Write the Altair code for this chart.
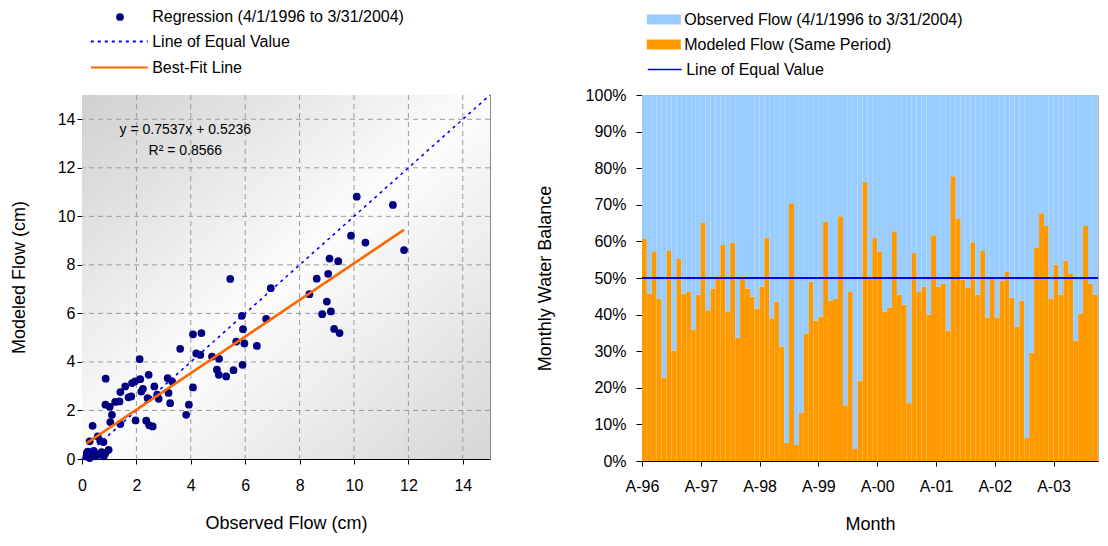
import altair as alt
import pandas as pd

FONT = "Liberation Sans"

# ---------------- Left panel: monthly flows (cm) ----------------
observed_cm = [
    5.45, 5.88, 5.92, 5.67, 5.97, 6.43, 4.08, 4.39, 3.61, 4.20,
    4.35, 4.78, 5.04, 4.96, 5.03, 5.30, 5.57, 5.90, 4.08, 2.12,
    0.87, 2.45, 2.14, 1.95, 1.84, 1.59, 1.41, 1.81, 2.18, 2.24,
    2.66, 2.76, 2.82, 2.41, 3.15, 3.31, 3.18, 3.24, 3.83, 3.93,
    1.38, 1.22, 1.02, 0.86, 1.10, 1.04, 1.41, 1.97, 2.36, 2.47,
    2.60, 0.39, 0.28, 0.58, 0.67, 0.79, 0.98, 0.86, 0.67, 0.43,
    0.18, 0.24, 0.37, 0.16, 0.49, 0.80, 0.28, 1.71, 10.10, 11.43,
    9.89, 10.42, 11.84, 9.10, 9.42, 8.63, 9.05, 6.94, 8.36, 9.00,
    9.15, 8.83, 9.27, 9.47, 6.77, 0.21, 0.34, 0.55, 0.31, 0.72,
]
modeled_cm = [
    7.42, 5.90, 5.35, 4.84, 4.76, 4.66, 5.14, 5.19, 4.54, 4.35,
    4.29, 4.22, 4.13, 3.68, 3.47, 3.40, 3.66, 3.88, 2.95, 4.12,
    3.31, 3.47, 3.29, 3.20, 3.13, 2.99, 2.76, 2.58, 2.78, 2.89,
    2.99, 2.65, 2.48, 2.51, 3.33, 3.20, 2.72, 2.30, 1.82, 2.24,
    2.37, 2.35, 2.15, 2.24, 1.82, 1.52, 1.44, 1.59, 1.58, 1.39,
    1.34, 1.37, 0.73, 0.93, 0.75, 0.70, 0.38, 0.25, 0.18, 0.34,
    0.25, 0.11, 0.18, 0.10, 0.11, 0.11, 0.04, 2.54, 10.81, 10.47,
    9.20, 8.92, 8.61, 8.26, 8.15, 7.43, 7.63, 7.04, 6.79, 6.49,
    6.08, 5.97, 5.36, 5.19, 5.77, 0.30, 0.26, 0.20, 0.08, 0.28,
]
fit_slope = 0.7537
fit_intercept = 0.5236
r_squared = 0.8566
equal_line_cm = [0, 15]
flow_ticks = [0, 2, 4, 6, 8, 10, 12, 14]
grid_ticks = [2, 4, 6, 8, 10, 12, 14]

reg_label = "Regression (4/1/1996 to 3/31/2004)"
eq_label = "Line of Equal Value"
fit_label = "Best-Fit Line"

# ---------------- Right panel: monthly water balance (%) ----------------
modeled_pct = [
    60.7, 45.7, 57.1, 44.3, 22.8, 57.4, 30.2, 55.2, 45.7, 46.2,
    35.9, 45.4, 65.0, 41.2, 47.1, 50.5, 59.0, 40.8, 59.6, 33.7,
    50.5, 47.1, 44.9, 41.6, 47.6, 60.9, 39.0, 43.5, 31.3, 4.9,
    70.4, 4.4, 13.1, 34.8, 49.0, 38.3, 39.4, 65.3, 43.8, 44.3,
    66.9, 15.2, 46.2, 3.3, 22.0, 76.2, 49.8, 60.9, 57.1, 40.8,
    41.9, 62.8, 45.4, 42.7, 15.8, 56.8, 46.2, 47.6, 40.0, 61.7,
    47.6, 48.4, 35.6, 77.8, 66.1, 49.5, 47.3, 59.8, 45.4, 57.4,
    39.2, 49.8, 39.2, 49.2, 51.7, 44.6, 36.7, 43.8, 6.3, 29.6,
    58.2, 67.7, 64.2, 44.3, 53.6, 45.4, 54.7, 51.1, 32.9, 40.3,
    64.2, 48.4, 45.4, 55.2, 54.4, 54.0,
]
equal_pct = 50
pct_ticks = [0, 10, 20, 30, 40, 50, 60, 70, 80, 90, 100]
year_ticks = [1996, 1997, 1998, 1999, 2000, 2001, 2002, 2003]

obs_label = "Observed Flow (4/1/1996 to 3/31/2004)"
mod_label = "Modeled Flow (Same Period)"

# ---------------- tables ----------------
pts_df = pd.DataFrame({"obs": observed_cm, "mod": modeled_cm, "series": reg_label})
eq_df = pd.DataFrame({"obs": equal_line_cm, "mod": equal_line_cm, "series": eq_label})
fx = [min(observed_cm), max(observed_cm)]
fit_df = pd.DataFrame({"obs": fx, "mod": [fit_slope * v + fit_intercept for v in fx],
                       "series": fit_label})
bg_df = pd.DataFrame({"x0": [0], "x1": [15], "y0": [0], "y1": [15]})
grid_df = pd.DataFrame({"v": grid_ticks})
ann_df = pd.DataFrame({
    "x": [3.8, 3.8], "y": [13.55, 12.7],
    "t": [f"y = {fit_slope}x + {fit_intercept}", f"R\u00b2 = {r_squared}"],
})

starts = pd.date_range("1996-04-01", periods=len(modeled_pct), freq="MS")
ends = starts + pd.offsets.MonthBegin(1)
rows = []
for s, e, m in zip(starts, ends, modeled_pct):
    rows.append({"start": s.strftime("%Y-%m-%d"), "end": e.strftime("%Y-%m-%d"),
                 "series": mod_label, "lo": 0, "hi": m})
    rows.append({"start": s.strftime("%Y-%m-%d"), "end": e.strftime("%Y-%m-%d"),
                 "series": obs_label, "lo": m, "hi": 100})
bar_df = pd.DataFrame(rows)
rule_df = pd.DataFrame({"pct": [equal_pct], "series": [eq_label]})

# ---------------- left panel ----------------
W1, H1 = 408, 364
xs = alt.Scale(domain=[0, 15], nice=False)
ys = alt.Scale(domain=[0, 15], nice=False)
xaxis = alt.Axis(values=flow_ticks, grid=False, tickSize=5, labelPadding=13,
                 labelFlush=False, title="Observed Flow (cm)", titlePadding=21)
yaxis = alt.Axis(values=flow_ticks, grid=False, tickSize=5, labelPadding=2,
                 title="Modeled Flow (cm)", titlePadding=29)

leg_base = dict(orient="none", title=None, labelFontSize=16, labelFont=FONT,
                labelColor="black", labelLimit=600, padding=0)

grad = alt.LinearGradient(
    gradient="linear",
    stops=[alt.GradientStop(color="#d0d0d0", offset=0),
           alt.GradientStop(color="#fcfcfc", offset=0.5),
           alt.GradientStop(color="#d6d6d6", offset=1)],
    x1=0, y1=0, x2=1, y2=1)

bg = alt.Chart(bg_df).mark_rect(fill=grad).encode(
    x=alt.X("x0:Q", scale=xs, axis=xaxis), x2="x1:Q",
    y=alt.Y("y0:Q", scale=ys, axis=yaxis), y2="y1:Q")

gx = alt.Chart(grid_df).mark_rule(color="#9a9a9a", strokeDash=[5, 4], strokeWidth=1).encode(
    x=alt.X("v:Q", scale=xs, axis=xaxis))
gy = alt.Chart(grid_df).mark_rule(color="#9a9a9a", strokeDash=[5, 4], strokeWidth=1).encode(
    y=alt.Y("v:Q", scale=ys, axis=yaxis))

pts = alt.Chart(pts_df).mark_circle(size=60, opacity=1).encode(
    x=alt.X("obs:Q", scale=xs, axis=xaxis),
    y=alt.Y("mod:Q", scale=ys, axis=yaxis),
    fill=alt.Fill("series:N", scale=alt.Scale(domain=[reg_label], range=["#000080"]),
                  legend=alt.Legend(symbolType="circle", symbolSize=60, legendX=30,
                                    legendY=-86, labelOffset=24.2, **leg_base)))

line_leg = alt.Legend(symbolType="M-4,0H4", symbolSize=203, symbolStrokeWidth=2,
                      legendX=28.8, legendY=-62, labelOffset=24.4, rowPadding=9,
                      **leg_base)
stroke_scale = alt.Scale(domain=[eq_label, fit_label], range=["#0000FF", "#FF6600"])
dash_scale = alt.Scale(domain=[eq_label, fit_label], range=[[3, 4], [1, 0]])

eq_line = alt.Chart(eq_df).mark_line(strokeWidth=1.6).encode(
    x=alt.X("obs:Q", scale=xs, axis=xaxis), y=alt.Y("mod:Q", scale=ys, axis=yaxis),
    stroke=alt.Stroke("series:N", scale=stroke_scale, legend=line_leg),
    strokeDash=alt.StrokeDash("series:N", scale=dash_scale, legend=line_leg))
fit_line = alt.Chart(fit_df).mark_line(strokeWidth=2.6).encode(
    x=alt.X("obs:Q", scale=xs, axis=xaxis), y=alt.Y("mod:Q", scale=ys, axis=yaxis),
    stroke=alt.Stroke("series:N", scale=stroke_scale, legend=line_leg),
    strokeDash=alt.StrokeDash("series:N", scale=dash_scale, legend=line_leg))

ann = alt.Chart(ann_df).mark_text(fontSize=14, font=FONT, color="black").encode(
    x=alt.X("x:Q", scale=xs, axis=xaxis), y=alt.Y("y:Q", scale=ys, axis=yaxis), text="t:N")

left = alt.layer(bg, gx, gy, pts, eq_line, fit_line, ann).properties(
    width=W1, height=H1, view=alt.ViewBackground(stroke="#8a8a8a", strokeWidth=1))

# ---------------- right panel ----------------
W2, H2 = 456, 366
xs2 = alt.Scale(type="utc", domain=[alt.DateTime(year=1996, month=4, date=1, utc=True),
                                    alt.DateTime(year=2004, month=1, date=2, utc=True)])
ys2 = alt.Scale(domain=[0, 100], nice=False)
xaxis2 = alt.Axis(values=[alt.DateTime(year=y, month=4, date=1, utc=True) for y in year_ticks],
                  labelExpr="'A-' + utcFormat(datum.value, '%y')", tickSize=5,
                  labelPadding=12, labelFlush=False, grid=False, title="Month", titlePadding=21)
yaxis2 = alt.Axis(values=pct_ticks, labelExpr="datum.value + '%'", tickSize=6,
                  labelPadding=10, grid=False, title="Monthly Water Balance", titlePadding=31)

bars = alt.Chart(bar_df).mark_bar(clip=True, strokeWidth=0).encode(
    x=alt.X("start:T", scale=xs2, axis=xaxis2), x2="end:T",
    y=alt.Y("lo:Q", scale=ys2, axis=yaxis2), y2="hi:Q",
    fill=alt.Fill("series:N", scale=alt.Scale(domain=[obs_label, mod_label],
                                              range=["#99CCFF", "#FF9900"]),
                  legend=alt.Legend(symbolType="M-2,-0.6H2V0.6H-2Z", symbolSize=289,
                                    symbolStrokeWidth=0, legendX=13.3, legendY=-84,
                                    labelOffset=11.9, rowPadding=8, **leg_base)))
rule = alt.Chart(rule_df).mark_rule(strokeWidth=2, clip=True).encode(
    y=alt.Y("pct:Q", scale=ys2, axis=yaxis2),
    stroke=alt.Stroke("series:N", scale=alt.Scale(domain=[eq_label], range=["#0000FF"]),
                      legend=alt.Legend(symbolType="M-2,0H2", symbolSize=289,
                                        symbolStrokeWidth=1.5, legendX=13.3, legendY=-35,
                                        labelOffset=11.9, **leg_base)))

right = alt.layer(bars, rule).properties(
    width=W2, height=H2, view=alt.ViewBackground(stroke="#b4b4b4", strokeWidth=1))

chart = alt.hconcat(left, right, spacing=41).resolve_scale(
    fill="independent", stroke="independent", strokeDash="independent"
).resolve_legend(
    fill="independent", stroke="independent", strokeDash="independent"
).properties(
    padding={"left": 1, "top": 0, "right": 0, "bottom": 0}
).configure(font=FONT).configure_axis(
    labelFontSize=16, titleFontSize=18, titleFontWeight="normal",
    labelColor="black", titleColor="black", domainColor="black", tickColor="black",
    labelFont=FONT, titleFont=FONT
)

chart.save("out.html", embed_options={"renderer": "svg", "actions": False})
